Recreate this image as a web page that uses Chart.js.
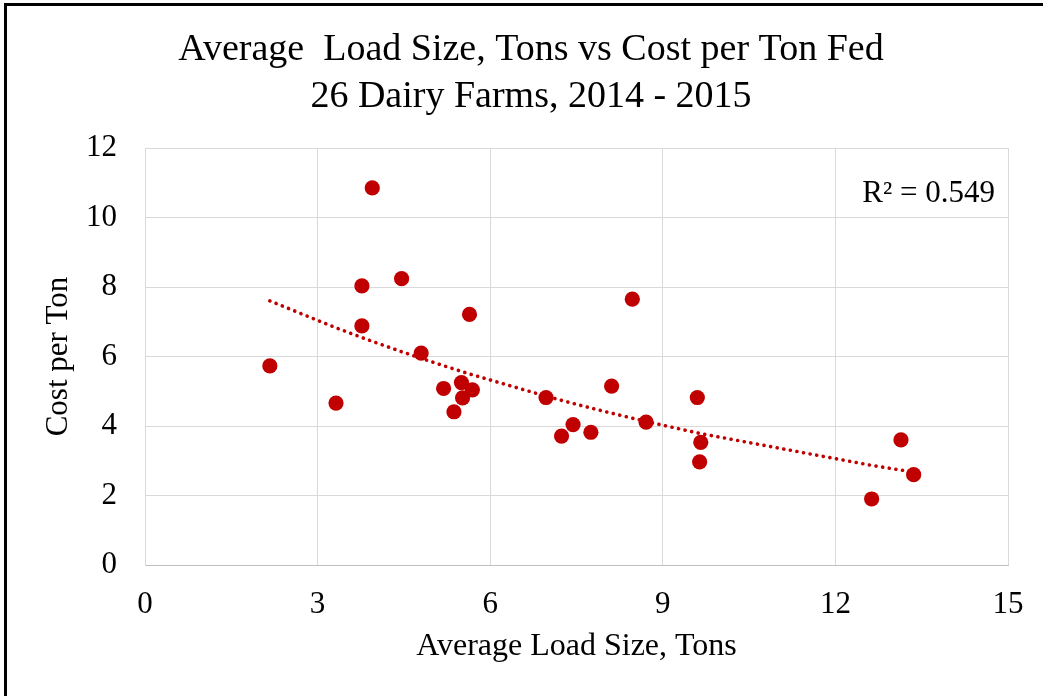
<!DOCTYPE html>
<html>
<head>
<meta charset="utf-8">
<script src="https://cdn.jsdelivr.net/npm/chart.js@4"></script>
<style>
  html, body { margin: 0; padding: 0; background: #fff; }
  .frame { position: absolute; left: 4px; top: 3px; width: 1100px; height: 800px;
           border-left: 3px solid #000; border-top: 3px solid #000; pointer-events: none; }
  .wrap { position: absolute; left: 0; top: 0; width: 1043px; height: 696px; }
</style>
</head>
<body>
<div class="wrap"><canvas id="myChart"></canvas></div>
<div class="frame"></div>
<script>
"use strict";
// data
const loadSize = [3.95, 4.46, 3.77, 5.64, 3.77, 4.80, 2.17, 3.32, 5.19, 5.50, 5.69, 5.52, 5.37,
                  6.97, 7.44, 7.24, 7.75, 8.11, 8.47, 8.71, 9.60, 9.66, 9.64, 13.14, 13.36, 12.63];
const costPerTon = [10.85, 8.24, 8.03, 7.21, 6.88, 6.10, 5.73, 4.66, 5.08, 5.25, 5.04, 4.81, 4.41,
                    4.82, 4.04, 3.71, 3.82, 5.15, 7.65, 4.11, 4.82, 3.53, 2.97, 3.60, 2.60, 1.90];
const xTicks = [0, 3, 6, 9, 12, 15];
const yTicks = [0, 2, 4, 6, 8, 10, 12];
const rSquared = "0.549";

const serif = "'Liberation Serif', 'Times New Roman', serif";
const red = "#C00000";

// exponential trendline (least squares on ln y), like the spreadsheet one
let n = loadSize.length, sx = 0, sy = 0, sxx = 0, sxy = 0;
for (let i = 0; i < n; i++) {
    let ly = Math.log(costPerTon[i]);
    sx += loadSize[i]; sy += ly; sxx += loadSize[i] * loadSize[i]; sxy += loadSize[i] * ly;
}
const b = (n * sxy - sx * sy) / (n * sxx - sx * sx);
const a = Math.exp((sy - b * sx) / n);
const trendX = loadSize.slice().sort((p, q) => p - q);
const trend = trendX.map(x => ({ x: x, y: a * Math.exp(b * x) }));

const points = loadSize.map((x, i) => ({ x: x, y: costPerTon[i] }));

const r2Label = {
    id: "r2Label",
    afterLayout(chart) {
        // the title sits a bit right of the canvas centre
        if (chart.titleBlock) chart.titleBlock.left += 54;
    },
    afterDatasetsDraw(chart) {
        const { ctx, chartArea } = chart;
        ctx.save();
        ctx.font = "31px " + serif;
        ctx.fillStyle = "#000";
        ctx.textAlign = "right";
        ctx.textBaseline = "middle";
        ctx.fillText("R\u00B2 = " + rSquared, chartArea.right - 13, chartArea.top + 46);
        ctx.restore();
    }
};

const ctx = document.getElementById("myChart");
new Chart(ctx, {
    type: "scatter",
    data: {
        datasets: [{
            data: points,
            backgroundColor: red,
            borderColor: red,
            pointRadius: 7.6,
            pointHoverRadius: 7.6,
            borderWidth: 0,
            order: 1
        }, {
            type: "line",
            data: trend,
            borderColor: red,
            borderWidth: 3.6,
            borderDash: [0.1, 6.6],
            borderCapStyle: "round",
            pointRadius: 0,
            fill: false,
            tension: 0,
            order: 2
        }]
    },
    options: {
        responsive: true,
        maintainAspectRatio: false,
        animation: false,
        layout: { padding: { left: 0, right: 35, top: 0, bottom: 0 } },
        plugins: {
            legend: { display: false },
            tooltip: { enabled: false },
            title: {
                display: true,
                text: ["Average  Load Size, Tons vs Cost per Ton Fed", "26 Dairy Farms, 2014 - 2015"],
                color: "#000",
                font: { family: serif, size: 38, weight: "normal", lineHeight: 1.237 },
                padding: { top: 27, bottom: 27 }
            }
        },
        scales: {
            x: {
                type: "linear",
                min: 0,
                max: 15,
                afterBuildTicks: s => { s.ticks = xTicks.map(v => ({ value: v })) },
                afterFit: s => { s.height = 131; s.paddingLeft = 0; s.paddingRight = 0 },
                ticks: { color: "#000", font: { family: serif, size: 31 }, padding: 21 },
                grid: { color: "#d9d9d9", drawTicks: false },
                border: { color: "#bfbfbf" },
                title: {
                    display: true,
                    text: "Average Load Size, Tons",
                    color: "#000",
                    font: { family: serif, size: 32 },
                    padding: { top: 0, bottom: 30 }
                }
            },
            y: {
                min: 0,
                max: 12,
                afterBuildTicks: s => { s.ticks = yTicks.map(v => ({ value: v })) },
                afterFit: s => { s.width = 145; s.paddingTop = 0; s.paddingBottom = 0 },
                ticks: { color: "#000", font: { family: serif, size: 31 }, padding: 28 },
                grid: { color: "#d9d9d9", drawTicks: false },
                border: { color: "#d9d9d9" },
                title: {
                    display: true,
                    text: "Cost per Ton",
                    color: "#000",
                    font: { family: serif, size: 31 },
                    padding: { top: 40, bottom: 0 }
                }
            }
        }
    },
    plugins: [r2Label]
});
</script>
</body>
</html>
